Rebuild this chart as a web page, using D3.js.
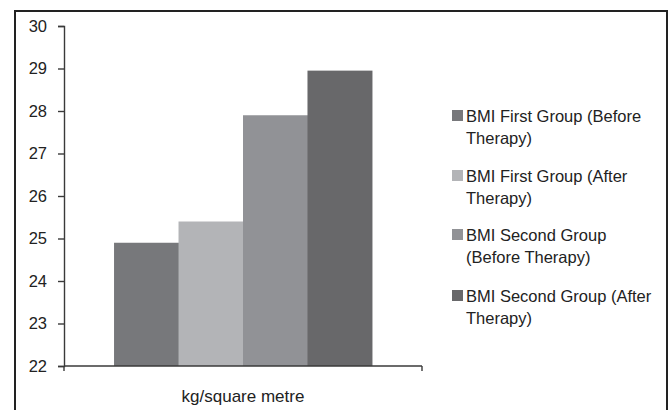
<!DOCTYPE html>
<html><head><meta charset="utf-8">
<script src="https://cdn.jsdelivr.net/npm/d3@7"></script>
<style>body{margin:0;background:#fff;}svg{display:block;font-family:"Liberation Sans",Arial,sans-serif;}</style>
</head><body><svg id="c" width="669" height="410"></svg>
<script>
const categories = ["kg/square metre"];
const seriesNames = [
  ["BMI First Group (Before", "Therapy)"],
  ["BMI First Group (After", "Therapy)"],
  ["BMI Second Group", "(Before Therapy)"],
  ["BMI Second Group (After", "Therapy)"]
];
const seriesValues = [24.9, 25.4, 27.9, 28.95];
const seriesColors = ["#77787b", "#b3b4b7", "#919296", "#68686a"];
const yTicks = [22, 23, 24, 25, 26, 27, 28, 29, 30];

const svg = d3.select("#c");
// outer frame
svg.append("path").attr("d", "M15,410 V11 H667 V410").attr("fill", "none").attr("stroke", "#222").attr("stroke-width", 2);

const x0 = d3.scaleBand().domain(categories).range([64, 422]).paddingInner(0).paddingOuter(0.194);
const x1 = d3.scaleBand().domain(d3.range(seriesValues.length)).range([0, x0.bandwidth()]);
const y = d3.scaleLinear().domain([22, 30]).range([366, 26]);

const g = svg.append("g");
categories.forEach(c => {
  g.selectAll("rect").data(seriesValues).join("rect")
    .attr("x", (d, i) => x0(c) + x1(i))
    .attr("width", x1.bandwidth() + 0.5)
    .attr("y", d => y(d))
    .attr("height", d => y(22) - y(d))
    .attr("fill", (d, i) => seriesColors[i]);
});

// y axis
const ya = svg.append("g").attr("transform", "translate(64,0)")
  .call(d3.axisLeft(y).tickValues(yTicks).tickSize(6).tickPadding(11).tickFormat(d3.format("d")));
ya.select(".domain").attr("stroke", "#3a3a3a").attr("stroke-width", 1.4);
ya.selectAll(".tick line").attr("stroke", "#3a3a3a").attr("stroke-width", 1.4);
ya.selectAll("text").attr("font-size", 16.5).attr("fill", "#222").attr("font-family", "Liberation Sans, Arial, sans-serif");

// x axis
const xa = svg.append("g").attr("transform", "translate(0,366)");
xa.append("line").attr("x1", 64).attr("x2", 422).attr("stroke", "#3a3a3a").attr("stroke-width", 1.4);
[64, 422].forEach(px => xa.append("line").attr("x1", px).attr("x2", px).attr("y1", 0).attr("y2", 5).attr("stroke", "#3a3a3a").attr("stroke-width", 1.4));
xa.append("text").attr("x", x0(categories[0]) + x0.bandwidth() / 2).attr("y", 36)
  .attr("text-anchor", "middle").attr("font-size", 17).attr("fill", "#222").text(categories[0]);

// legend
const lg = svg.append("g").attr("transform", "translate(452,0)");
const ly = [122, 182, 241, 302];
seriesNames.forEach((n, i) => {
  lg.append("rect").attr("x", 0).attr("y", ly[i] - 12).attr("width", 11).attr("height", 11).attr("fill", seriesColors[i]);
  n.forEach((t, j) => lg.append("text").attr("x", 14).attr("y", ly[i] + j * 21.5)
    .attr("font-size", 16.5).attr("fill", "#222").text(t));
});
</script></body></html>
